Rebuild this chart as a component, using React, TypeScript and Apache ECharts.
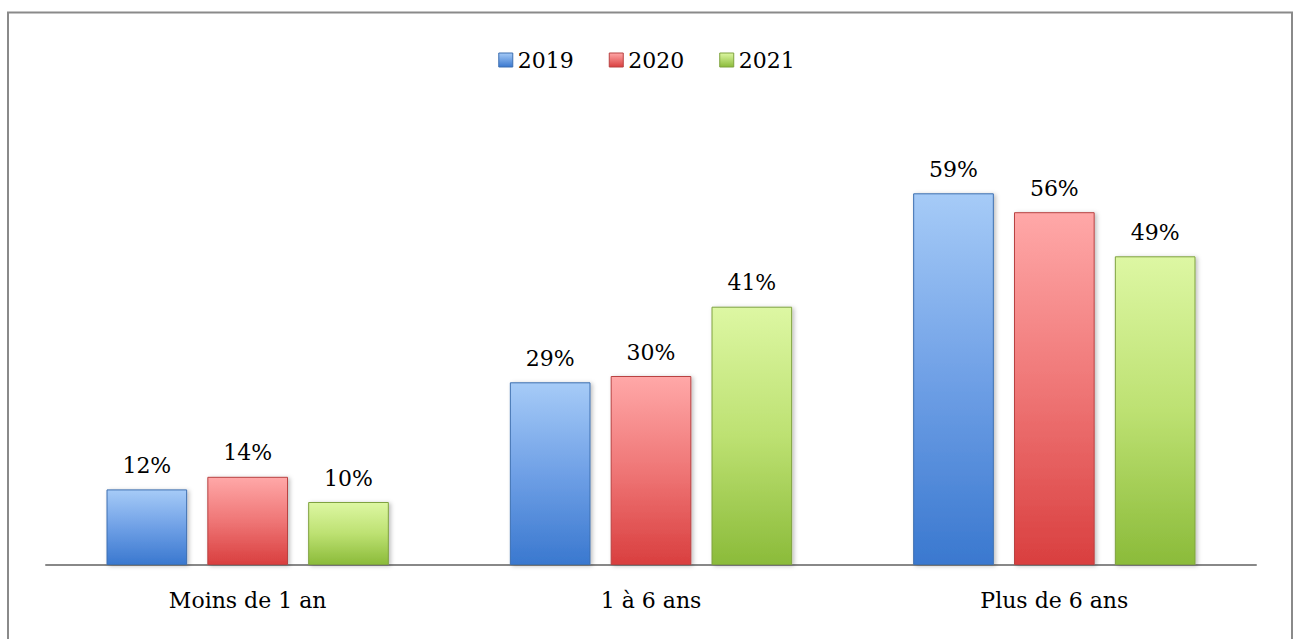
import React, { useEffect, useRef } from "react";
import * as echarts from "echarts";

const categories = ["Moins de 1 an", "1 à 6 ans", "Plus de 6 ans"];
const seriesNames = ["2019", "2020", "2021"];
const values2019 = [12, 29, 59];
const values2020 = [14, 30, 56];
const values2021 = [10, 41, 49];

const palettes = [
  { top: "#a6cbf7", mid: "#6fa0e6", bottom: "#3a78cf", border: "#3d6fb0", legend: "#4f86d6" },
  { top: "#ffa8a8", mid: "#ef7676", bottom: "#d93f3f", border: "#b84242", legend: "#d95a5a" },
  { top: "#ddf7a3", mid: "#bde172", bottom: "#8bbb3a", border: "#7fa23f", legend: "#a6cf5c" },
];

const FONT = "DejaVu Serif";

export default function App() {
  const ref = useRef<HTMLDivElement>(null);
  useEffect(() => {
    if (!ref.current) return;
    const chart = echarts.init(ref.current, undefined, { renderer: "svg" });
    const data = [values2019, values2020, values2021];
    chart.setOption({
      animation: false,
      backgroundColor: "#ffffff",
      graphic: [
        {
          type: "rect",
          shape: { x: 8, y: 12.5, width: 1284, height: 700 },
          style: { fill: "none", stroke: "#8a8a8a", lineWidth: 2 },
          silent: true,
        },
      ],
      legend: {
        top: 44,
        left: "center",
        itemWidth: 14,
        itemHeight: 14,
        itemGap: 35,
        icon: "rect",
        textStyle: { fontFamily: FONT, fontSize: 22, color: "#000" },
        data: seriesNames.map((n, i) => ({
          name: n,
          itemStyle: {
            color: new echarts.graphic.LinearGradient(0, 0, 0, 1, [
              { offset: 0, color: palettes[i].top },
              { offset: 1, color: palettes[i].bottom },
            ]),
            borderColor: palettes[i].border,
            borderWidth: 1,
          },
        })),
      },
      grid: { left: 46, right: 37, top: 124, bottom: 74, containLabel: false },
      xAxis: {
        type: "category",
        data: categories,
        axisLine: { show: true, lineStyle: { color: "#888888", width: 2 } },
        axisTick: { show: false },
        axisLabel: { fontFamily: FONT, fontSize: 22, color: "#000", margin: 24 },
      },
      yAxis: {
        type: "value",
        min: 0,
        max: 70,
        show: false,
        splitLine: { show: false },
      },
      series: seriesNames.map((n, i) => ({
        name: n,
        type: "bar",
        data: data[i],
        barGap: "25%",
        barCategoryGap: "30%",
        itemStyle: {
          color: new echarts.graphic.LinearGradient(0, 0, 0, 1, [
            { offset: 0, color: palettes[i].top },
            { offset: 0.5, color: palettes[i].mid },
            { offset: 1, color: palettes[i].bottom },
          ]),
          borderColor: palettes[i].border,
          borderWidth: 1,
          shadowColor: "rgba(0,0,0,0.25)",
          shadowBlur: 4,
          shadowOffsetX: 2,
          shadowOffsetY: 1,
        },
        label: {
          show: true,
          position: "top",
          distance: 13,
          formatter: "{c}%",
          fontFamily: FONT,
          fontSize: 22,
          color: "#000",
        },
      })),
    });
    return () => chart.dispose();
  }, []);
  return (
    <div
      ref={ref}
      style={{ position: "fixed", left: 0, top: 0, width: 1293, height: 639 }}
    />
  );
}
